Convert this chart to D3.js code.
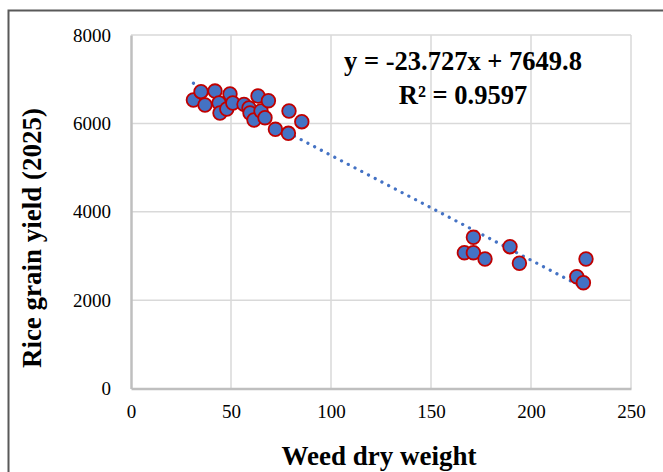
<!DOCTYPE html>
<html>
<head>
<meta charset="utf-8">
<script src="https://d3js.org/d3.v7.min.js"></script>
<style>
  body { margin: 0; background: #fff; }
  text { font-family: "Liberation Serif", "Times New Roman", serif; }
</style>
</head>
<body>
<svg id="chart" width="663" height="472"></svg>
<script>
// weed dry weight vs rice grain yield (2025)
var weed = [31.2, 35, 37, 42, 44, 44.5, 47.9, 49.5, 50.9, 56.5, 59, 59.5, 61.5, 63.5, 65, 67, 68.7, 72.2, 78.7, 79, 85.4,
            166.7, 171.2, 171.2, 177, 189.5, 194.2, 222.9, 226.2, 227.5];
var yieldVals = [6529, 6717, 6416, 6732, 6461, 6235, 6325, 6665, 6461, 6431, 6348, 6235, 6076, 6619, 6280, 6128, 6513, 5866, 5775, 6280, 6038,
                 3073, 3422, 3073, 2931, 3209, 2834, 2530, 2394, 2931];
var xTicks = [0, 50, 100, 150, 200, 250];
var yTicks = [0, 2000, 4000, 6000, 8000];
var slope = -23.727, intercept = 7649.8;

var svg = d3.select('#chart');
var plotL = 131, plotR = 631, plotT = 35, plotB = 388.5;

// outer frame
svg.append('rect')
  .attr('x', 8.5).attr('y', 10.5)
  .attr('width', 700).attr('height', 500)
  .attr('fill', 'none').attr('stroke', '#595959').attr('stroke-width', 2);

var x = d3.scaleLinear().domain([0, 250]).range([plotL, plotR]);
var y = d3.scaleLinear().domain([0, 8000]).range([plotB, plotT]);

// gridlines
svg.append('g').selectAll('line').data(xTicks.slice(1)).enter().append('line')
  .attr('x1', function(d) { return x(d); }).attr('x2', function(d) { return x(d); })
  .attr('y1', plotT).attr('y2', plotB)
  .attr('stroke', '#d9d9d9').attr('stroke-width', 1.5);
svg.append('g').selectAll('line').data(yTicks.slice(1)).enter().append('line')
  .attr('x1', plotL).attr('x2', plotR)
  .attr('y1', function(d) { return y(d); }).attr('y2', function(d) { return y(d); })
  .attr('stroke', '#d9d9d9').attr('stroke-width', 1.5);

// axes
var xAxis = svg.append('g').attr('transform', 'translate(0,' + plotB + ')')
  .call(d3.axisBottom(x).tickValues(xTicks).tickSize(0).tickPadding(16));
var yAxis = svg.append('g').attr('transform', 'translate(' + plotL + ',0)')
  .call(d3.axisLeft(y).tickValues(yTicks).tickSize(0).tickPadding(20).tickFormat(d3.format('d')));
[xAxis, yAxis].forEach(function(a) {
  a.attr('font-size', 19).attr('font-family', '"Liberation Serif", serif');
  a.select('.domain').attr('stroke', '#bfbfbf').attr('stroke-width', 2.5);
  a.selectAll('text').attr('fill', '#000');
});

// trendline
var x0 = d3.min(weed), x1 = d3.max(weed);
svg.append('line')
  .attr('x1', x(x0)).attr('y1', y(slope * x0 + intercept))
  .attr('x2', x(x1)).attr('y2', y(slope * x1 + intercept))
  .attr('stroke', '#4472c4').attr('stroke-width', 3.2)
  .attr('stroke-linecap', 'round').attr('stroke-dasharray', '0.1 7.5');

// points
svg.append('g').selectAll('circle').data(weed).enter().append('circle')
  .attr('cx', function(d) { return x(d); })
  .attr('cy', function(d, i) { return y(yieldVals[i]); })
  .attr('r', 6.8)
  .attr('fill', '#4472c4').attr('stroke', '#c00000').attr('stroke-width', 1.8);

// equation
svg.append('text').attr('x', 463).attr('y', 70).attr('text-anchor', 'middle')
  .attr('font-size', 26.5).attr('font-weight', 'bold').text('y = -23.727x + 7649.8');
svg.append('text').attr('x', 463).attr('y', 104).attr('text-anchor', 'middle')
  .attr('font-size', 26.5).attr('font-weight', 'bold').text('R² = 0.9597');

// axis titles
svg.append('text').attr('x', 379).attr('y', 465).attr('text-anchor', 'middle')
  .attr('font-size', 27).attr('font-weight', 'bold').text('Weed dry weight');
svg.append('text').attr('transform', 'translate(41,238) rotate(-90)').attr('text-anchor', 'middle')
  .attr('font-size', 27).attr('font-weight', 'bold').text('Rice grain yield (2025)');
</script>
</body>
</html>
